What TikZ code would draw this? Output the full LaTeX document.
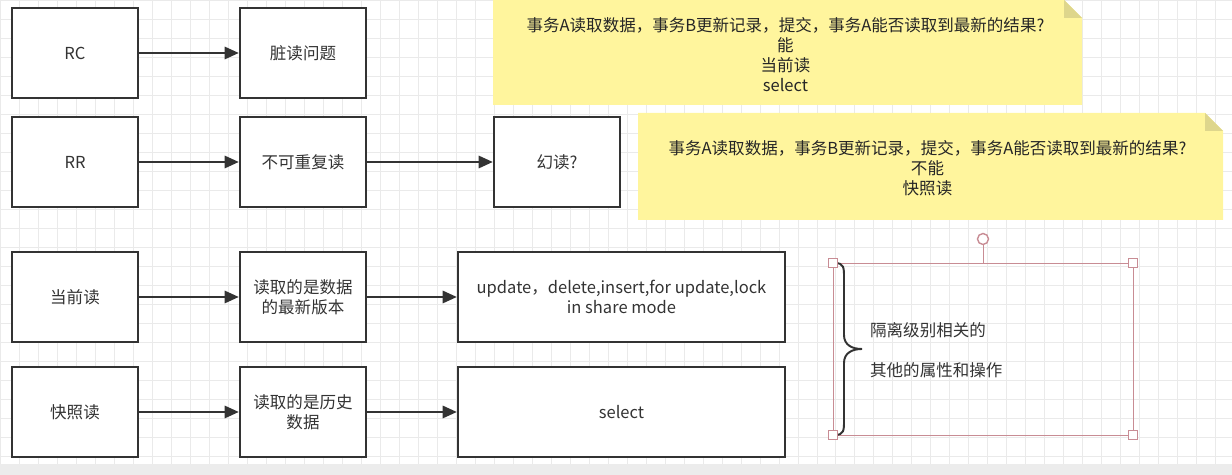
\documentclass[tikz,border=0pt]{standalone}
\usepackage{fontspec}
\setmainfont{Noto Sans CJK SC}
\usepackage{tikz}
\usetikzlibrary{positioning,calc,arrows.meta}
\definecolor{InkGray}{RGB}{51,51,51}
\definecolor{GridGray}{RGB}{234,234,234}
\definecolor{NoteYellow}{RGB}{255,245,157}
\definecolor{FoldYellow}{RGB}{222,214,140}
\definecolor{SelPink}{RGB}{200,140,148}
\definecolor{FootGray}{RGB}{236,236,236}
\tikzset{
  cell/.style={draw=InkGray,fill=white,line width=1.4pt,minimum width=2.52cm,
    minimum height=1.8cm,align=center,text=InkGray,
    font=\fontsize{9.4pt}{11.3pt}\selectfont},
  widecell/.style={cell,minimum width=6.54cm},
  flow/.style={draw=InkGray,line width=1.1pt,-{Triangle[length=8pt,width=7pt]}},
  notefill/.style={fill=NoteYellow},
  foldfill/.style={fill=FoldYellow},
  notetext/.style={align=center,text=black!85,font=\fontsize{9.4pt}{11.3pt}\selectfont},
  sidetext/.style={anchor=west,text=InkGray,font=\fontsize{9.4pt}{11.3pt}\selectfont},
  gridline/.style={draw=GridGray,line width=0.4pt},
  selbox/.style={draw=SelPink,line width=0.5pt},
  handle/.style={draw=SelPink,fill=white,line width=0.6pt,minimum size=0.18cm,inner sep=0pt},
  bracket/.style={draw=InkGray,line width=1.1pt,line cap=round},
}
\begin{document}
\begin{tikzpicture}[x=0.02cm,y=-0.02cm]
  \useasboundingbox (0,0) rectangle (1232,475);
  \draw[gridline,step=0.38cm] (0,0) grid (1232,475);
  \fill[FootGray] (0,464) rectangle (1232,475);

  % isolation levels
  \node[cell] (rc) at (75,53) {RC};
  \node[cell] (dirty) at (303,53) {脏读问题};
  \node[cell] (rr) at (75,162) {RR};
  \node[cell] (norepeat) at (303,162) {不可重复读};
  \node[cell] (phantom) at (557,162) {幻读?};

  \draw[flow] (rc) -- (dirty);
  \draw[flow] (rr) -- (norepeat);
  \draw[flow] (norepeat) -- (phantom);

  % read types
  \node[cell] (curread) at (75,297) {当前读};
  \node[cell] (latest) at (303,297) {读取的是数据\\的最新版本};
  \node[widecell] (curops) at (621.5,297) {update，delete,insert,for update,lock\\in share mode};
  \node[cell] (snapread) at (75,412) {快照读};
  \node[cell] (history) at (303,412) {读取的是历史\\数据};
  \node[widecell] (snapops) at (621.5,412) {select};

  \draw[flow] (curread) -- (latest);
  \draw[flow] (latest) -- (curops);
  \draw[flow] (snapread) -- (history);
  \draw[flow] (history) -- (snapops);

  % notes
  \coordinate (n1a) at (493,0);
  \coordinate (n1b) at (1082,105);
  \fill[notefill] (n1a) -- (1064,0) -- (1082,18) -- (n1b) -- (493,105) -- cycle;
  \fill[foldfill] (1064,0) -- (1064,18) -- (1082,18) -- cycle;
  \node[notetext] (note1) at ($(n1a)!0.5!(n1b)+(-2,2)$)
    {事务A读取数据，事务B更新记录，提交，事务A能否读取到最新的结果?\\能\\当前读\\select};

  \coordinate (n2a) at (638,113);
  \coordinate (n2b) at (1223,220);
  \fill[notefill] (n2a) -- (1205,113) -- (1223,131) -- (n2b) -- (638,220) -- cycle;
  \fill[foldfill] (1205,113) -- (1205,131) -- (1223,131) -- cycle;
  \node[notetext] (note2) at ($(n2a)!0.5!(n2b)+(-3,2)$)
    {事务A读取数据，事务B更新记录，提交，事务A能否读取到最新的结果?\\不能\\快照读};

  % brace group
  \coordinate (sa) at (833,263);
  \coordinate (sb) at (1133,435);
  \draw[selbox] (sa) rectangle (sb);
  \node[circle,draw=SelPink,fill=white,line width=0.8pt,minimum size=0.22cm,inner sep=0pt]
    (rot) at (983,239) {};
  \draw[selbox] (rot.south) -- (983,263);
  \draw[bracket] (835,263) .. controls (844,263) and (844,268) .. (844,277) -- (844,335)
    .. controls (844,345) and (852,349) .. (862,349)
    .. controls (852,349) and (844,353) .. (844,363) -- (844,421)
    .. controls (844,430) and (844,435) .. (835,435);
  \node[handle] (h1) at (sa) {};
  \node[handle] (h2) at (1133,263) {};
  \node[handle] (h3) at (833,435) {};
  \node[handle] (h4) at (sb) {};
  \node[sidetext] (grp1) at (864,330) {隔离级别相关的};
  \node[sidetext] (grp2) at (864,370) {其他的属性和操作};
\end{tikzpicture}
\end{document}
